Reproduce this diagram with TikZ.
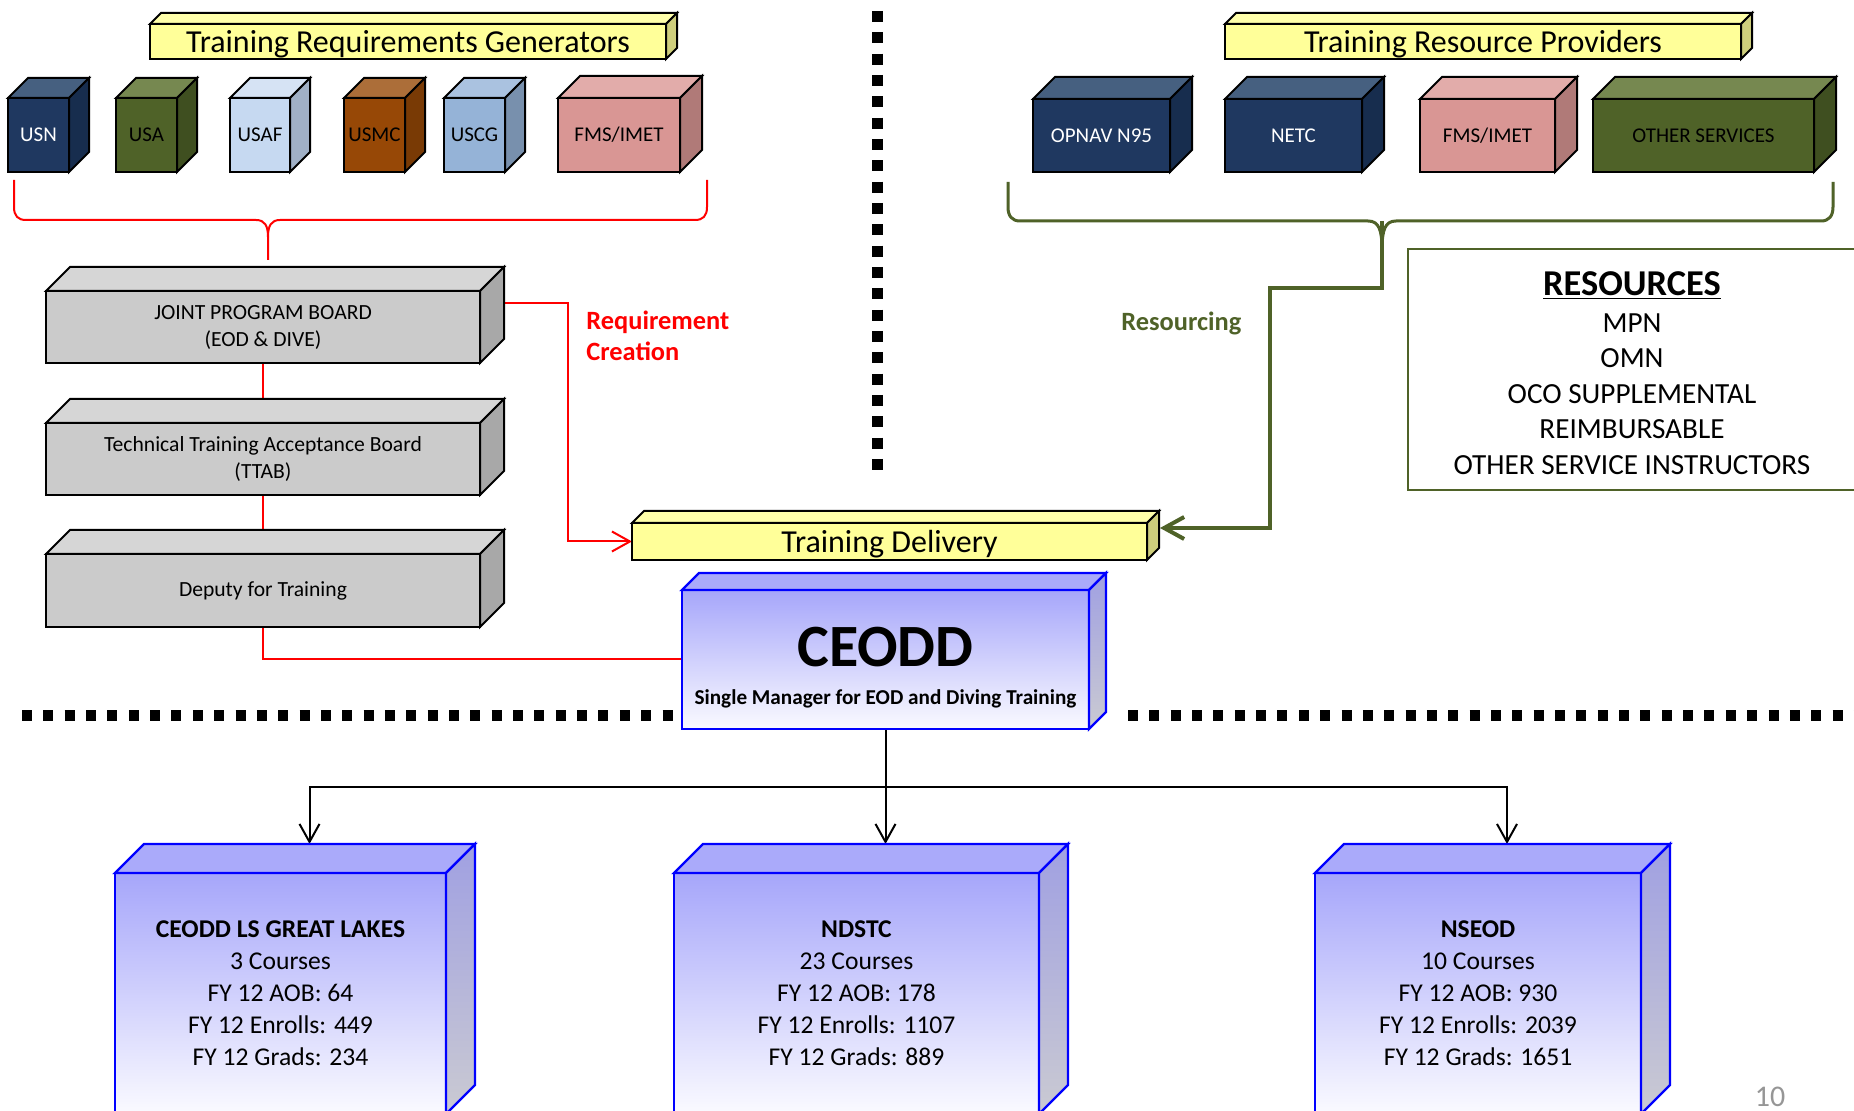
\documentclass[tikz,border=0pt]{standalone}
\usepackage{fontspec}
\setmainfont{Carlito}
\usetikzlibrary{calc,arrows.meta}
\pgfdeclarelayer{bg}
\pgfsetlayers{bg,main}
\definecolor{usnF}{RGB}{31,56,96}
\definecolor{usnT}{RGB}{70,96,128}
\definecolor{usnS}{RGB}{23,45,78}
\definecolor{usaF}{RGB}{79,98,40}
\definecolor{usaT}{RGB}{118,136,80}
\definecolor{usaS}{RGB}{63,79,32}
\definecolor{usafF}{RGB}{198,217,241}
\definecolor{usafT}{RGB}{214,227,244}
\definecolor{usafS}{RGB}{160,176,198}
\definecolor{usmcF}{RGB}{151,72,6}
\definecolor{usmcT}{RGB}{172,110,57}
\definecolor{usmcS}{RGB}{121,58,5}
\definecolor{uscgF}{RGB}{149,179,215}
\definecolor{uscgT}{RGB}{170,194,224}
\definecolor{uscgS}{RGB}{120,144,173}
\definecolor{fmsF}{RGB}{217,150,148}
\definecolor{fmsT}{RGB}{226,172,170}
\definecolor{fmsS}{RGB}{176,122,120}
\definecolor{yelF}{RGB}{255,255,153}
\definecolor{yelT}{RGB}{255,255,170}
\definecolor{yelS}{RGB}{206,206,124}
\definecolor{gryF}{RGB}{203,203,203}
\definecolor{gryT}{RGB}{214,214,214}
\definecolor{gryS}{RGB}{168,168,168}
\definecolor{bluT}{RGB}{170,170,250}
\definecolor{bluF1}{RGB}{166,166,250}
\definecolor{bluF2}{RGB}{250,250,255}
\definecolor{bluS1}{RGB}{160,160,226}
\definecolor{bluS2}{RGB}{202,202,210}
\definecolor{olv}{RGB}{79,98,40}
\definecolor{pggray}{RGB}{150,150,150}
\newcommand\myfs[2]{\fontsize{#1}{#2}\selectfont}
\newcommand\lowtext[1]{\raisebox{-5.4pt}[0pt][0pt]{#1}}
\newcommand\mkfaces[4]{%
  \path[face, fill=#3] (#1.north west) -- ++(#2,-#2) -- ($(#1.north east)+(#2,-#2)$) -- (#1.north east) -- cycle;
  \path[face, fill=#4] (#1.north east) -- ++(#2,-#2) -- ($(#1.south east)+(#2,-#2)$) -- (#1.south east) -- cycle;}
\newcommand\mkbluefaces[2]{%
  \path[bface, fill=bluT] (#1.north west) -- ++(#2,-#2) -- ($(#1.north east)+(#2,-#2)$) -- (#1.north east) -- cycle;
  \path[bface, top color=bluS1, bottom color=bluS2] (#1.north east) -- ++(#2,-#2) -- ($(#1.south east)+(#2,-#2)$) -- (#1.south east) -- cycle;}
\begin{document}
\begin{tikzpicture}[x=0.5pt,y=-0.5pt,
  face/.style={draw=black, line width=1pt},
  bface/.style={draw=blue, line width=1.2pt},
  frontbox/.style={face, inner sep=0pt, outer sep=0pt, align=center, font=\myfs{10.5}{13}},
  barbox/.style={face, fill=yelF, inner sep=0pt, outer sep=0pt, font=\myfs{16}{18}},
  graybox/.style={face, fill=gryF, inner sep=0pt, outer sep=0pt, align=center, font=\myfs{10.8}{13.5}, minimum width=217pt},
  bluebox/.style={bface, top color=bluF1, bottom color=bluF2, inner sep=0pt, outer sep=0pt, align=center},
  redc/.style={draw=red, line width=1pt},
  grc/.style={draw=olv, line width=2pt},
  blk/.style={draw=black, line width=1pt},
  dotl/.style={draw=black, line width=5.5pt},
  tipS/.style={-{Straight Barb[length=9pt,width=10pt]}},
  tipG/.style={-{Straight Barb[length=10pt,width=11pt]}}
]
\useasboundingbox (0,0) rectangle (1854,1111);

% ---------- top left cubes ----------
\node[frontbox, fill=usnF, text=white, minimum width=30.5pt, minimum height=37pt] (usn) at (38.5,135) {USN};
\mkfaces{usn}{20}{usnT}{usnS}
\node[frontbox, fill=usaF, minimum width=30.5pt, minimum height=37pt] (usa) at (146.5,135) {USA};
\mkfaces{usa}{20}{usaT}{usaS}
\node[frontbox, fill=usafF, minimum width=30pt, minimum height=37pt] (usaf) at (260,135) {USAF};
\mkfaces{usaf}{20}{usafT}{usafS}
\node[frontbox, fill=usmcF, minimum width=30.5pt, minimum height=37pt] (usmc) at (374.5,135) {USMC};
\mkfaces{usmc}{20}{usmcT}{usmcS}
\node[frontbox, fill=uscgF, minimum width=30.5pt, minimum height=37pt] (uscg) at (474.5,135) {USCG};
\mkfaces{uscg}{20}{uscgT}{uscgS}
\node[frontbox, fill=fmsF, minimum width=61pt, minimum height=37pt] (fmsa) at (619,135) {FMS/IMET};
\mkfaces{fmsa}{22}{fmsT}{fmsS}

% ---------- top right cubes ----------
\node[frontbox, fill=usnF, text=white, minimum width=68.5pt, minimum height=36.5pt] (opnav) at (1101.5,135.5) {OPNAV N95};
\mkfaces{opnav}{22}{usnT}{usnS}
\node[frontbox, fill=usnF, text=white, minimum width=68.5pt, minimum height=36.5pt] (netc) at (1293.5,135.5) {NETC};
\mkfaces{netc}{22}{usnT}{usnS}
\node[frontbox, fill=fmsF, minimum width=67.5pt, minimum height=36.5pt] (fmsb) at (1487.5,135.5) {FMS/IMET};
\mkfaces{fmsb}{22}{fmsT}{fmsS}
\node[frontbox, fill=usaF, minimum width=110.5pt, minimum height=36.5pt] (oth) at (1703.5,135.5) {OTHER SERVICES};
\mkfaces{oth}{22}{usaT}{usaS}

% ---------- yellow bars ----------
\node[barbox, minimum width=258pt, minimum height=17.5pt] (trg) at (408,41.5) {\lowtext{Training Requirements Generators}};
\mkfaces{trg}{11}{yelT}{yelS}
\node[barbox, minimum width=258pt, minimum height=17.5pt] (trp) at (1483,41.5) {\lowtext{Training Resource Providers}};
\mkfaces{trp}{11}{yelT}{yelS}
\node[barbox, minimum width=257.5pt, minimum height=18.5pt] (td) at (889.5,541.5) {\lowtext{Training Delivery}};
\mkfaces{td}{12}{yelT}{yelS}

% ---------- gray boards ----------
\node[graybox, minimum height=36pt] (jpb) at (263,327) {JOINT PROGRAM BOARD\\(EOD \& DIVE)};
\mkfaces{jpb}{24}{gryT}{gryS}
\node[graybox, minimum height=36pt] (ttab) at (263,459) {Technical Training Acceptance Board\\(TTAB)};
\mkfaces{ttab}{24}{gryT}{gryS}
\node[graybox, minimum height=36.5pt] (dep) at (263,590.5) {Deputy for Training};
\mkfaces{dep}{24}{gryT}{gryS}

% ---------- CEODD ----------
\node[bluebox, minimum width=203.5pt, minimum height=69.5pt] (ceodd) at (885.5,659.5) {};
\mkbluefaces{ceodd}{17}
\node[font=\myfs{30}{34}\bfseries, inner sep=0pt] (ceoddt) at (885.5,647) {CEODD};
\node[font=\myfs{10.6}{12}\bfseries, inner sep=0pt] (ceodds) at (885.5,699) {Single Manager for EOD and Diving Training};

% ---------- bottom schoolhouses ----------
\node[bluebox, font=\myfs{12.8}{16}, minimum width=165.5pt, minimum height=120.5pt] (ls) at (280.5,993.5)
  {\textbf{CEODD LS GREAT LAKES}\\3 Courses\\FY 12 AOB: 64\\FY 12 Enrolls: 449\\FY 12 Grads: 234};
\mkbluefaces{ls}{29}
\node[bluebox, font=\myfs{12.8}{16}, minimum width=182.5pt, minimum height=120.5pt] (nd) at (856.5,993.5)
  {\textbf{NDSTC}\\23 Courses\\FY 12 AOB: 178\\FY 12 Enrolls: 1107\\FY 12 Grads: 889};
\mkbluefaces{nd}{29}
\node[bluebox, font=\myfs{12.8}{16}, minimum width=163pt, minimum height=120.5pt] (ns) at (1478,993.5)
  {\textbf{NSEOD}\\10 Courses\\FY 12 AOB: 930\\FY 12 Enrolls: 2039\\FY 12 Grads: 1651};
\mkbluefaces{ns}{29}

% ---------- resources box ----------
\node[draw=olv, line width=1pt, minimum width=224pt, minimum height=120.5pt, inner sep=0pt] (res) at (1632,369.5) {};
\node[align=center, inner sep=0pt, font=\myfs{14.6}{17.75}] (rest) at (1632,373)
  {{\myfs{18.2}{20}\bfseries\underline{RESOURCES}}\\[0.6pt]MPN\\OMN\\OCO SUPPLEMENTAL\\REIMBURSABLE\\OTHER SERVICE INSTRUCTORS};

% ---------- labels ----------
\node[anchor=west, align=left, text=red, inner sep=0pt, font=\myfs{13.2}{15.5}\bfseries] (reqc) at (586,336) {Requirement\\Creation};
\node[anchor=west, text=olv, inner sep=0pt, font=\myfs{13.2}{15.5}\bfseries] (resg) at (1121,323.5) {Resourcing};
\node[text=pggray, inner sep=0pt, font=\myfs{15}{18}] (pg) at (1770,1097) {10};

% ---------- connection points ----------
\coordinate (jpbR) at ($(jpb.north east)+(24,12)$);
\coordinate (tdR) at ($(td.east)+(13,-13.5)$);
\coordinate (lsT) at ($(ls.north)+(29,-29)$);
\coordinate (ndT) at ($(nd.north)+(29,-29)$);
\coordinate (nsT) at ($(ns.north)+(29,-29)$);
\coordinate (gtip) at (1382,221);
\coordinate (bus) at ($(ceodd.south)+(0,58)$);

\begin{pgfonlayer}{bg}
  \fill[white] (0,0) rectangle (1854,1111);
  % dotted separators
  \draw[dotl, dash pattern=on 5pt off 5.675pt] (22,715.5) -- (690,715.5);
  \draw[dotl, dash pattern=on 5pt off 5.675pt] (1128,715.5) -- (1860,715.5);
  \draw[dotl, dash pattern=on 5.5pt off 5.165pt] (877.5,11) -- (877.5,471);
  % red brace
  \draw[redc] (14,180) -- (14,207) .. controls (14,216) and (18,220) .. (26,220) -- (256,220)
     .. controls (265,220) and (268,226) .. (268,237) -- (268,260);
  \draw[redc] (268,237) .. controls (268,226) and (271,220) .. (280,220) -- (695,220)
     .. controls (703,220) and (707,216) .. (707,207) -- (707,180);
  % green brace
  \draw[olv, line width=1.5pt] (1008,182) -- (1008,207) .. controls (1008,216) and (1012,221) .. (1020,221) -- (1368,221)
     .. controls (1379,221) and (1382,230) .. (1382,250);
  \draw[olv, line width=1.5pt] (1382,250) .. controls (1382,230) and (1385,221) .. (1396,221) -- (1821,221)
     .. controls (1829,221) and (1833,216) .. (1833,207) -- (1833,182);
  % red connectors
  \draw[redc] (jpb.south) -- (ttab.north);
  \draw[redc] (ttab.south) -- (dep.north);
  \draw[redc] (dep.south) |- (ceodd.west);
  \draw[redc, tipS] (jpbR) -- ++(64,0) |- (td.west);
  % green connector
  \draw[grc, tipG] (gtip) |- (1270,288) |- (tdR);
  % black connectors
  \draw[blk, tipS] (ceodd.south) -- (ndT);
  \draw[blk, tipS] (bus) -| (lsT);
  \draw[blk, tipS] (bus) -| (nsT);
\end{pgfonlayer}
\end{tikzpicture}
\end{document}
